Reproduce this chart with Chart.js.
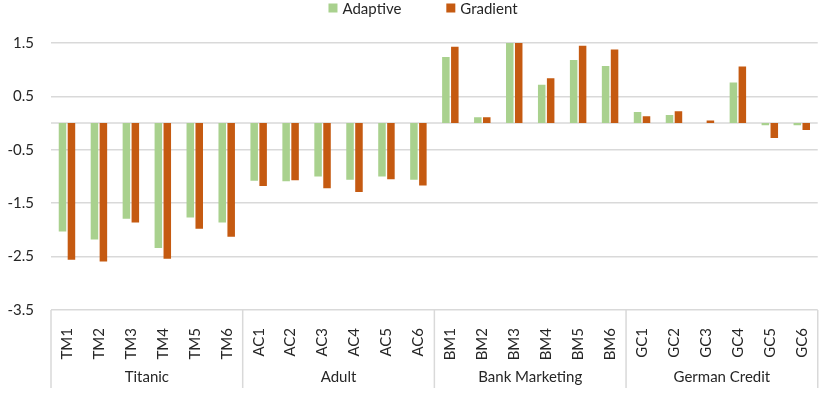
<!DOCTYPE html>
<html>
<head>
<meta charset="utf-8">
<script src="https://cdn.jsdelivr.net/npm/chart.js@4/dist/chart.umd.min.js"></script>
<style>
  html, body { margin: 0; padding: 0; background: #fff; }
  #wrap { width: 830px; height: 401px; position: relative; }
</style>
</head>
<body>
<div id="wrap"><canvas id="myChart"></canvas></div>
<script>
'use strict';

// data
const categoryLabels = ['TM1','TM2','TM3','TM4','TM5','TM6','AC1','AC2','AC3','AC4','AC5','AC6','BM1','BM2','BM3','BM4','BM5','BM6','GC1','GC2','GC3','GC4','GC5','GC6'];
const groupNames = ['Titanic','Adult','Bank Marketing','German Credit'];
const adaptiveValues = [-2.03,-2.18,-1.79,-2.34,-1.77,-1.86, -1.08,-1.09,-1.0,-1.06,-1.0,-1.06, 1.24,0.11,1.5,0.72,1.18,1.07, 0.21,0.15,0.0,0.76,-0.04,-0.04];
const gradientValues = [-2.56,-2.59,-1.86,-2.54,-1.98,-2.13, -1.18,-1.07,-1.22,-1.29,-1.05,-1.17, 1.43,0.11,1.5,0.84,1.45,1.38, 0.13,0.22,0.05,1.06,-0.28,-0.13];
const yTicks = [-3.5,-2.5,-1.5,-0.5,0.5,1.5];

const green = '#A9D18E';
const orange = '#C55A11';
const gridColor = '#D9D9D9';
const textColor = '#262626';
const fontName = 'Lato, "Liberation Sans", sans-serif';

// draws the zero line, the group labels underneath and the little legend up top
const extrasPlugin = {
  id: 'extras',
  beforeDatasetsDraw(chart) {
    const ctx = chart.ctx;
    const area = chart.chartArea;
    const zeroY = chart.scales.y.getPixelForValue(0);
    ctx.save();
    ctx.strokeStyle = gridColor;
    ctx.lineWidth = 1.5;
    ctx.beginPath();
    ctx.moveTo(area.left, zeroY);
    ctx.lineTo(area.right, zeroY);
    ctx.stroke();
    ctx.restore();
  },
  afterDraw(chart) {
    const ctx = chart.ctx;
    const area = chart.chartArea;
    const perGroup = categoryLabels.length / groupNames.length;
    const step = (area.right - area.left) / categoryLabels.length;
    ctx.save();
    ctx.strokeStyle = gridColor;
    ctx.lineWidth = 1.5;
    for (let k = 0; k <= groupNames.length; k++) {
      let x = area.left + k * perGroup * step;
      ctx.beginPath();
      ctx.moveTo(x, area.bottom);
      ctx.lineTo(x, area.bottom + 78);
      ctx.stroke();
    }
    ctx.fillStyle = textColor;
    ctx.font = '15px ' + fontName;
    ctx.textAlign = 'center';
    ctx.textBaseline = 'middle';
    for (let k = 0; k < groupNames.length; k++) {
      let mid = area.left + (k + 0.5) * perGroup * step;
      ctx.fillText(groupNames[k], mid, area.bottom + 67);
    }

    // legend
    const sets = chart.data.datasets;
    const box = 9;
    const gap = 5;
    const spacing = 45;
    ctx.font = '15px ' + fontName;
    ctx.textAlign = 'left';
    let widths = sets.map(d => box + gap + ctx.measureText(d.label).width);
    let total = widths.reduce((a, b) => a + b, 0) + spacing * (sets.length - 1);
    let x = 423 - total / 2;
    const legendY = 8;
    for (let i = 0; i < sets.length; i++) {
      ctx.fillStyle = sets[i].backgroundColor;
      ctx.fillRect(x, legendY - box / 2, box, box);
      ctx.fillStyle = textColor;
      ctx.fillText(sets[i].label, x + box + gap, legendY + 1);
      x += widths[i] + spacing;
    }
    ctx.restore();
  }
};

const data = {
  labels: categoryLabels,
  datasets: [{
    label: 'Adaptive',
    data: adaptiveValues,
    backgroundColor: green,
    categoryPercentage: 0.56,
    barPercentage: 0.84
  },
  {
    label: 'Gradient',
    data: gradientValues,
    backgroundColor: orange,
    categoryPercentage: 0.56,
    barPercentage: 0.84
  }]
};

const config = {
  type: 'bar',
  data: data,
  options: {
    responsive: true,
    maintainAspectRatio: false,
    animation: false,
    layout: {
      padding: { top: 43, right: 11, left: 0, bottom: 0 }
    },
    plugins: {
      legend: { display: false },
      tooltip: { enabled: false }
    },
    scales: {
      x: {
        grid: { display: false },
        border: { display: false },
        ticks: {
          color: textColor,
          font: { family: fontName, size: 15 },
          minRotation: 90,
          maxRotation: 90,
          autoSkip: false,
          padding: 10
        },
        afterFit(scale) {
          scale.height = 91;
        }
      },
      y: {
        min: -3.5,
        max: 1.5,
        afterBuildTicks(scale) {
          scale.ticks = yTicks.map(v => ({ value: v }));
        },
        grid: { color: gridColor, lineWidth: 1.5, drawTicks: false },
        border: { display: false },
        ticks: {
          color: textColor,
          font: { family: fontName, size: 15 },
          padding: 17,
          callback: v => v.toFixed(1)
        },
        afterFit(scale) {
          scale.width = 51;
        }
      }
    }
  },
  plugins: [extrasPlugin]
};

const myChart = new Chart(document.getElementById('myChart'), config);
</script>
</body>
</html>
